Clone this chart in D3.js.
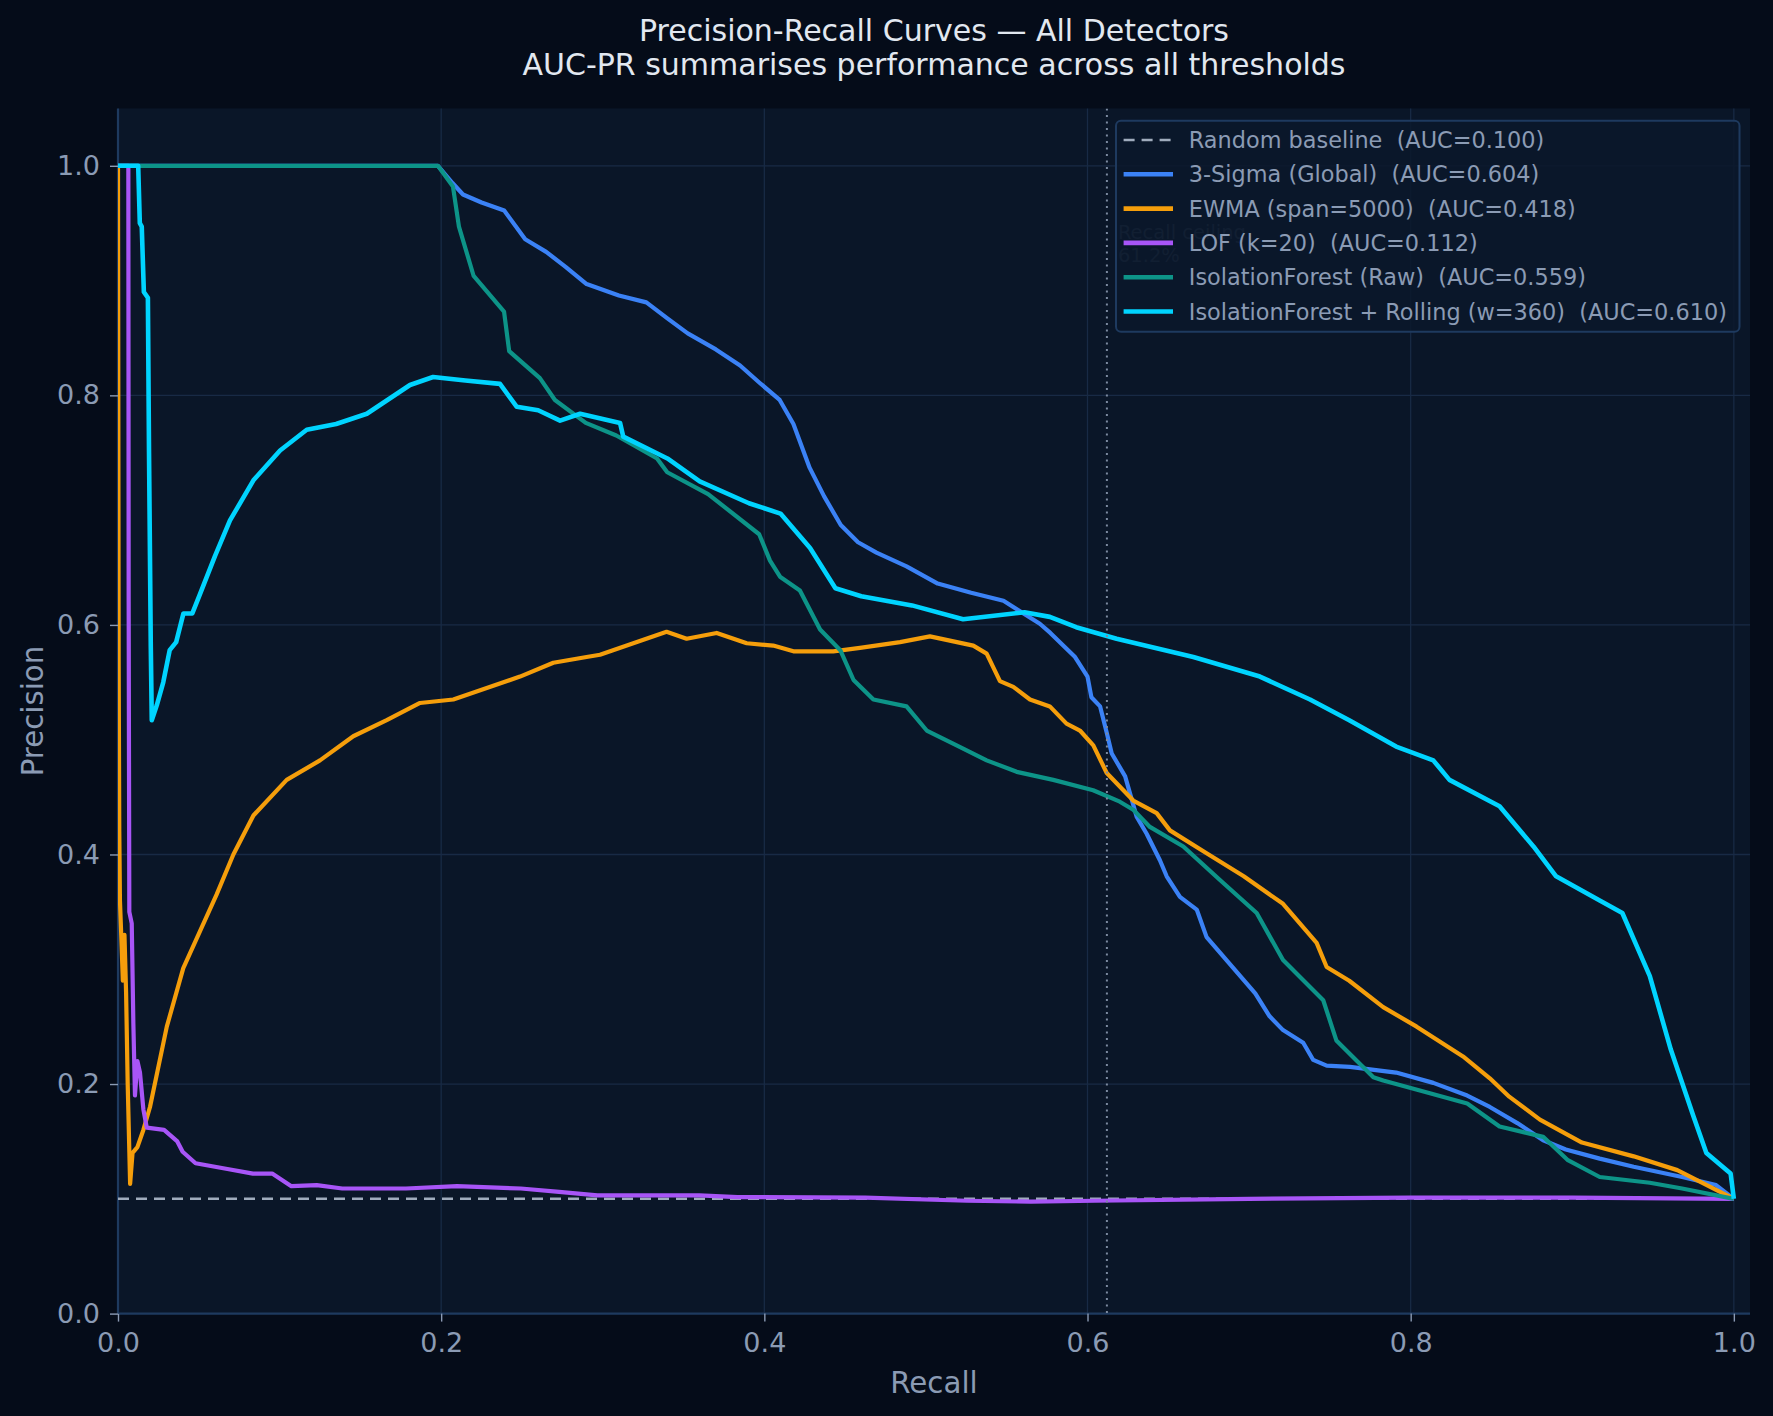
<!DOCTYPE html>
<html>
<head>
<meta charset="utf-8">
<script src="https://cdn.jsdelivr.net/npm/d3@7"></script>
<style>
  html, body { margin: 0; padding: 0; background: #050c19; }
  svg text { font-family: "DejaVu Sans", sans-serif; }
</style>
</head>
<body>
<svg id="chart" width="1773" height="1416"></svg>
<script>
/*****************************************************
 * Precision-Recall curves, all detectors
 * - values
 *****************************************************/
const recallTicks = [0, 0.2, 0.4, 0.6, 0.8, 1.0];
const precisionTicks = [0, 0.2, 0.4, 0.6, 0.8, 1.0];

const recallCeiling = 0.612;

const detectorNames = [
  "Random baseline  (AUC=0.100)",
  "3-Sigma (Global)  (AUC=0.604)",
  "EWMA (span=5000)  (AUC=0.418)",
  "LOF (k=20)  (AUC=0.112)",
  "IsolationForest (Raw)  (AUC=0.559)",
  "IsolationForest + Rolling (w=360)  (AUC=0.610)"
];
const detectorColors = ["#a0acbd", "#3b82f6", "#f59e0b", "#a855f7", "#0d9488", "#00d4ff"];

// [recall, precision]
const baselinePR = [[0, 0.1], [1, 0.1]];

const sigmaPR = [
  [0, 1], [0.198, 1], [0.207, 0.985], [0.2135, 0.975], [0.225, 0.968], [0.239, 0.961],
  [0.252, 0.936], [0.265, 0.925], [0.277, 0.912], [0.29, 0.897], [0.31, 0.887], [0.327, 0.881],
  [0.34, 0.867], [0.3526, 0.854], [0.37, 0.84], [0.385, 0.826], [0.397, 0.811], [0.4095, 0.796],
  [0.418, 0.775], [0.428, 0.737], [0.437, 0.712], [0.4473, 0.687], [0.458, 0.672], [0.4694, 0.663],
  [0.488, 0.651], [0.5073, 0.636], [0.528, 0.628], [0.548, 0.621], [0.5705, 0.601], [0.577, 0.593],
  [0.5923, 0.572], [0.6, 0.555], [0.6024, 0.537], [0.6078, 0.529], [0.6119, 0.506], [0.615, 0.488],
  [0.6233, 0.468], [0.6304, 0.433], [0.6366, 0.418], [0.6448, 0.395], [0.649, 0.381], [0.6572, 0.363],
  [0.6676, 0.352], [0.6737, 0.328], [0.686, 0.308], [0.7038, 0.279], [0.7127, 0.259], [0.721, 0.247],
  [0.7335, 0.236], [0.7397, 0.221], [0.748, 0.216], [0.7624, 0.215], [0.791, 0.21], [0.814, 0.201],
  [0.835, 0.19], [0.849, 0.18], [0.866, 0.166], [0.882, 0.151], [0.896, 0.143], [0.917, 0.135],
  [0.938, 0.128], [0.968, 0.119], [0.989, 0.112], [1.0, 0.1]
];

const ewmaPR = [
  [0, 1], [0.0004, 0.57], [0.0008, 0.42], [0.0012, 0.36], [0.002, 0.33], [0.003, 0.29],
  [0.004, 0.33], [0.005, 0.28], [0.006, 0.2], [0.0075, 0.113], [0.009, 0.14], [0.012, 0.145],
  [0.0157, 0.16], [0.0198, 0.18], [0.0302, 0.25], [0.0404, 0.301], [0.0507, 0.333], [0.061, 0.365],
  [0.0714, 0.4], [0.0838, 0.434], [0.1044, 0.465], [0.125, 0.482], [0.1456, 0.503], [0.1663, 0.517],
  [0.1869, 0.532], [0.2075, 0.535], [0.2282, 0.545], [0.2488, 0.555], [0.2694, 0.567], [0.29, 0.572],
  [0.2983, 0.574], [0.3189, 0.584], [0.3395, 0.594], [0.3519, 0.588], [0.3705, 0.593], [0.3891, 0.584],
  [0.4055, 0.582], [0.418, 0.577], [0.4427, 0.577], [0.4592, 0.58], [0.484, 0.585], [0.5025, 0.59],
  [0.5293, 0.582], [0.5376, 0.575], [0.5458, 0.551], [0.5541, 0.546], [0.5644, 0.535], [0.5767, 0.529],
  [0.587, 0.514], [0.5953, 0.508], [0.6036, 0.495], [0.6119, 0.471], [0.6283, 0.447], [0.6428, 0.436],
  [0.651, 0.421], [0.6737, 0.401], [0.6967, 0.381], [0.721, 0.357], [0.7418, 0.323], [0.748, 0.302],
  [0.762, 0.29], [0.783, 0.267], [0.8037, 0.25], [0.8324, 0.224], [0.849, 0.205], [0.861, 0.189],
  [0.88, 0.169], [0.906, 0.149], [0.938, 0.137], [0.965, 0.125], [1.0, 0.1]
];

const lofPR = [
  [0, 1], [0.0064, 1], [0.0066, 0.62], [0.007, 0.35], [0.0085, 0.34], [0.0095, 0.253],
  [0.0105, 0.19], [0.012, 0.22], [0.0136, 0.21], [0.0157, 0.178], [0.0178, 0.162], [0.0285, 0.16],
  [0.0367, 0.15], [0.04, 0.141], [0.048, 0.131], [0.0677, 0.126], [0.0835, 0.122], [0.0954, 0.122],
  [0.1073, 0.111], [0.123, 0.112], [0.1388, 0.109], [0.1782, 0.109], [0.2098, 0.111], [0.2493, 0.109],
  [0.273, 0.106], [0.2967, 0.103], [0.3598, 0.103], [0.3835, 0.1015], [0.4624, 0.101], [0.5255, 0.0983],
  [0.565, 0.0975], [0.6045, 0.0983], [0.7, 0.1], [0.8, 0.101], [0.9, 0.101], [1.0, 0.1]
];

const isoRawPR = [
  [0, 1], [0.198, 1], [0.2073, 0.982], [0.211, 0.947], [0.2201, 0.904], [0.2389, 0.873],
  [0.2421, 0.8385], [0.2611, 0.815], [0.2704, 0.796], [0.2895, 0.776], [0.3084, 0.765], [0.3336, 0.745],
  [0.3399, 0.733], [0.3652, 0.714], [0.3968, 0.679], [0.4035, 0.656], [0.4097, 0.642], [0.422, 0.63],
  [0.4345, 0.596], [0.447, 0.578], [0.4552, 0.552], [0.4675, 0.535], [0.488, 0.529], [0.5005, 0.508],
  [0.519, 0.495], [0.5376, 0.482], [0.5562, 0.472], [0.5788, 0.465], [0.6035, 0.456], [0.62, 0.446],
  [0.6283, 0.439], [0.6386, 0.424], [0.6593, 0.407], [0.6818, 0.378], [0.7047, 0.349], [0.721, 0.308],
  [0.7459, 0.273], [0.754, 0.238], [0.7769, 0.206], [0.783, 0.203], [0.804, 0.195], [0.835, 0.183],
  [0.855, 0.163], [0.882, 0.154], [0.897, 0.134], [0.917, 0.119], [0.948, 0.114], [0.968, 0.109],
  [1.0, 0.1]
];

const isoRollPR = [
  [0, 1], [0.0125, 1], [0.0135, 0.95], [0.0147, 0.947], [0.016, 0.89], [0.0185, 0.885],
  [0.0192, 0.75], [0.0203, 0.58], [0.0209, 0.517], [0.024, 0.53], [0.028, 0.55], [0.032, 0.578],
  [0.036, 0.585], [0.0405, 0.61], [0.046, 0.61], [0.0508, 0.627], [0.06, 0.66], [0.0693, 0.691],
  [0.0838, 0.726], [0.1003, 0.752], [0.1168, 0.77], [0.135, 0.775], [0.154, 0.784], [0.1807, 0.809],
  [0.195, 0.816], [0.215, 0.813], [0.2364, 0.81], [0.2468, 0.79], [0.26, 0.787], [0.2736, 0.778],
  [0.286, 0.784], [0.3107, 0.776], [0.3127, 0.764], [0.34, 0.745], [0.36, 0.725], [0.3905, 0.706],
  [0.41, 0.697], [0.4283, 0.667], [0.444, 0.632], [0.46, 0.625], [0.4914, 0.617], [0.523, 0.605],
  [0.561, 0.611], [0.5767, 0.607], [0.593, 0.598], [0.618, 0.588], [0.6655, 0.572], [0.7067, 0.555],
  [0.7377, 0.535], [0.762, 0.517], [0.791, 0.494], [0.814, 0.482], [0.824, 0.465], [0.855, 0.442],
  [0.876, 0.407], [0.89, 0.381], [0.917, 0.36], [0.931, 0.349], [0.948, 0.294], [0.961, 0.23],
  [0.975, 0.172], [0.983, 0.14], [0.998, 0.122], [1.0, 0.1]
];

const seriesData = [baselinePR, sigmaPR, ewmaPR, lofPR, isoRawPR, isoRollPR];

/*****************************************************
 * layout
 *****************************************************/
const plot = { left: 118, top: 108.4, right: 1750, bottom: 1313.6 };
const textColor = "#8b9bb4";

const svg = d3.select("#chart");

svg.append("rect")
  .attr("width", 1773).attr("height", 1416)
  .attr("fill", "#050c19");

const x = d3.scaleLinear().domain([0, 1.01]).range([plot.left, plot.right]);
const y = d3.scaleLinear().domain([0, 1.05]).range([plot.bottom, plot.top]);

svg.append("rect")
  .attr("x", plot.left).attr("y", plot.top)
  .attr("width", plot.right - plot.left).attr("height", plot.bottom - plot.top)
  .attr("fill", "#0a1628");

// grid
const grid = svg.append("g");
grid.selectAll("line.gx")
  .data(recallTicks.filter(d => d > 0))
  .enter().append("line")
  .attr("x1", d => x(d)).attr("x2", d => x(d))
  .attr("y1", plot.top).attr("y2", plot.bottom)
  .attr("stroke", "#182a45").attr("stroke-width", 1.3);
grid.selectAll("line.gy")
  .data(precisionTicks.filter(d => d > 0))
  .enter().append("line")
  .attr("x1", plot.left).attr("x2", plot.right)
  .attr("y1", d => y(d)).attr("y2", d => y(d))
  .attr("stroke", "#182a45").attr("stroke-width", 1.3);

// axes
const fmt = d3.format(".1f");
const xAxis = svg.append("g")
  .attr("transform", `translate(0,${plot.bottom})`)
  .call(d3.axisBottom(x).tickValues(recallTicks).tickFormat(fmt).tickSize(8).tickPadding(11));
const yAxis = svg.append("g")
  .attr("transform", `translate(${plot.left},0)`)
  .call(d3.axisLeft(y).tickValues(precisionTicks).tickFormat(fmt).tickSize(8).tickPadding(10));

[xAxis, yAxis].forEach(ax => {
  ax.select(".domain").attr("stroke", "#1e3a5f").attr("stroke-width", 2.2);
  ax.selectAll(".tick line").attr("stroke", "#8b9bb4").attr("stroke-width", 1.4);
  ax.selectAll(".tick text")
    .attr("fill", textColor)
    .attr("font-size", 27)
    .attr("font-family", "DejaVu Sans");
});
// matplotlib style spines: straight lines, no end caps
xAxis.select(".domain").attr("d", `M${plot.left},0H${plot.right}`);
yAxis.select(".domain").attr("d", `M0,${plot.bottom}V${plot.top}`);

// curves
const line = d3.line()
  .x(d => x(d[0]))
  .y(d => y(d[1]));

const clipId = "plotclip";
svg.append("clipPath").attr("id", clipId)
  .append("rect")
  .attr("x", plot.left).attr("y", plot.top)
  .attr("width", plot.right - plot.left).attr("height", plot.bottom - plot.top);

const curves = svg.append("g").attr("clip-path", `url(#${clipId})`);

curves.append("path")
  .datum(baselinePR)
  .attr("d", line)
  .attr("fill", "none")
  .attr("stroke", detectorColors[0])
  .attr("stroke-width", 2.6)
  .attr("stroke-dasharray", "11,7");

const lineWidths = [2.6, 4.2, 4.2, 4.2, 4.2, 4.6];
for (let i = 1; i < seriesData.length; i++) {
  curves.append("path")
    .datum(seriesData[i])
    .attr("d", line)
    .attr("fill", "none")
    .attr("stroke", detectorColors[i])
    .attr("stroke-width", lineWidths[i])
    .attr("stroke-linejoin", "round");
}

// recall ceiling
curves.append("line")
  .attr("x1", x(recallCeiling)).attr("x2", x(recallCeiling))
  .attr("y1", plot.top).attr("y2", plot.bottom)
  .attr("stroke", "#7c8aa0")
  .attr("stroke-width", 2)
  .attr("stroke-dasharray", "2,4.5");

const ceilText = svg.append("text")
  .attr("x", x(recallCeiling) + 11)
  .attr("y", 239)
  .attr("font-size", 19.5)
  .attr("fill", "#3a4a62");
ceilText.append("tspan").text("Recall ceiling");
ceilText.append("tspan").attr("x", x(recallCeiling) + 11).attr("dy", 22.5)
  .text(`${(recallCeiling * 100).toFixed(1)}%`);

// legend
const legend = svg.append("g");
legend.append("rect")
  .attr("x", 1116).attr("y", 120.7)
  .attr("width", 623.5).attr("height", 211)
  .attr("rx", 5)
  .attr("fill", "#0b172a").attr("fill-opacity", 0.85)
  .attr("stroke", "#1e3a5f").attr("stroke-width", 2);

detectorNames.forEach((name, i) => {
  const cy = 140 + i * 34.3;
  legend.append("line")
    .attr("x1", 1123.6).attr("x2", 1173)
    .attr("y1", cy).attr("y2", cy)
    .attr("stroke", detectorColors[i])
    .attr("stroke-width", i === 0 ? 2.6 : 4.6)
    .attr("stroke-dasharray", i === 0 ? "11,7" : null);
  legend.append("text")
    .attr("x", 1188.8).attr("y", cy)
    .attr("dy", "0.36em")
    .attr("font-size", 22.4)
    .attr("fill", textColor)
    .style("white-space", "pre")
    .text(name);
});

// titles
svg.append("text")
  .attr("x", (plot.left + plot.right) / 2).attr("y", 40.7)
  .attr("text-anchor", "middle")
  .attr("font-size", 30)
  .attr("fill", "#e2e8f0")
  .text("Precision-Recall Curves \u2014 All Detectors");
svg.append("text")
  .attr("x", (plot.left + plot.right) / 2).attr("y", 74.5)
  .attr("text-anchor", "middle")
  .attr("font-size", 30)
  .attr("fill", "#e2e8f0")
  .text("AUC-PR summarises performance across all thresholds");

svg.append("text")
  .attr("x", (plot.left + plot.right) / 2).attr("y", 1393)
  .attr("text-anchor", "middle")
  .attr("font-size", 29.3)
  .attr("fill", textColor)
  .text("Recall");
svg.append("text")
  .attr("transform", `translate(43,${(plot.top + plot.bottom) / 2}) rotate(-90)`)
  .attr("text-anchor", "middle")
  .attr("font-size", 29.3)
  .attr("fill", textColor)
  .text("Precision");
</script>
</body>
</html>
